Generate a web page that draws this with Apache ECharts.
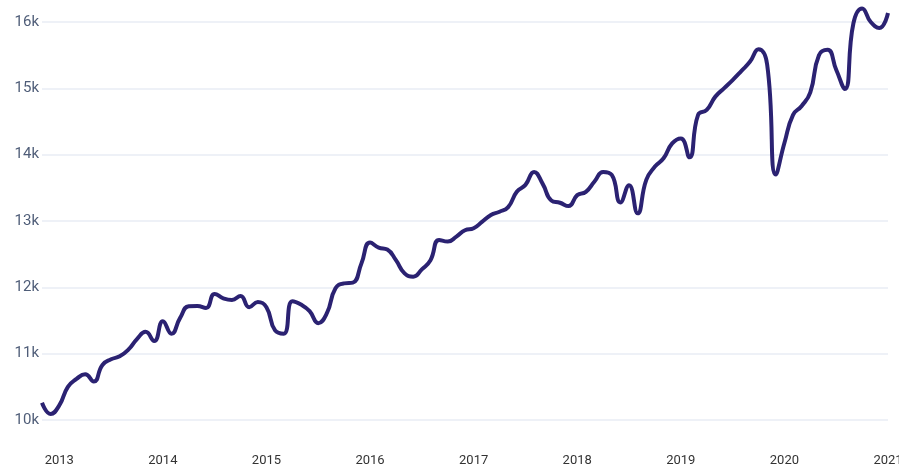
<!DOCTYPE html>
<html>
<head>
<meta charset="utf-8">
<script src="https://cdn.jsdelivr.net/npm/echarts@6/dist/echarts.min.js"></script>
<style>
  html, body { margin: 0; padding: 0; background: #fff; }
  #main { width: 899px; height: 469px; }
</style>
</head>
<body>
<div id="main"></div>
<script>
// monthly points, Nov 2012 .. Jan 2021
const startYear = 2012, startMonth = 11;
const values = [
    10260, 10090, 10220, 10500, 10620, 10690, 10580, 10830, 10915, 10960,
    11060, 11220, 11330, 11190, 11490, 11300, 11540, 11715, 11720, 11690,
    11900, 11835, 11810, 11870, 11700, 11780, 11700, 11350, 11300, 11790,
    11740, 11640, 11460, 11610, 11985, 12060, 12070, 12360, 12675, 12600,
    12570, 12410, 12210, 12160, 12270, 12410, 12715, 12690, 12765, 12860,
    12890, 12990, 13090, 13140, 13210, 13440, 13545, 13740, 13560, 13310,
    13275, 13225, 13390, 13440, 13595, 13740, 13695, 13280, 13540, 13115,
    13620, 13820, 13945, 14170, 14245, 13960, 14600, 14675, 14875, 15000,
    15125, 15260, 15400, 15590, 15360, 13700, 14175, 14600, 14735, 14940,
    15500, 15580, 15280, 14990, 15985, 16205, 16000, 15910, 16135
];
const yTicks = [10000, 11000, 12000, 13000, 14000, 15000, 16000];

const months = values.map((v, i) => {
    let m = startMonth - 1 + i;
    let y = startYear + Math.floor(m / 12);
    return y + '-' + String(m % 12 + 1).padStart(2, '0');
});

let option = {
    animation: false,
    grid: {
        left: 42,
        right: 11,
        top: 22,
        bottom: 49,
        outerBoundsMode: 'none',
        containLabel: false
    },
    xAxis: {
        type: 'category',
        boundaryGap: false,
        data: months,
        axisLine: { show: false },
        axisTick: { show: false },
        axisLabel: {
            interval: (idx, val) => val.slice(5) === '01',
            formatter: val => val.slice(0, 4),
            margin: 34,
            color: '#333333',
            fontSize: 13,
            fontFamily: 'Roboto, sans-serif'
        }
    },
    yAxis: {
        type: 'value',
        min: yTicks[0],
        max: yTicks[yTicks.length - 1],
        interval: 1000,
        axisLine: { show: false },
        axisTick: { show: false },
        axisLabel: {
            formatter: v => (v / 1000) + 'k',
            margin: 3,
            color: '#4f5d78',
            fontSize: 15,
            fontFamily: 'Roboto, sans-serif'
        },
        splitLine: {
            lineStyle: {
                color: '#eef1f7',
                width: 2
            }
        }
    },
    series: [
        {
            type: 'line',
            data: values,
            smooth: true,
            clip: false,
            showSymbol: false,
            lineStyle: {
                color: '#2b2272',
                width: 4
            }
        }
    ]
};
const chart = echarts.init(document.getElementById('main'));
chart.setOption(option)
</script>
</body>
</html>
